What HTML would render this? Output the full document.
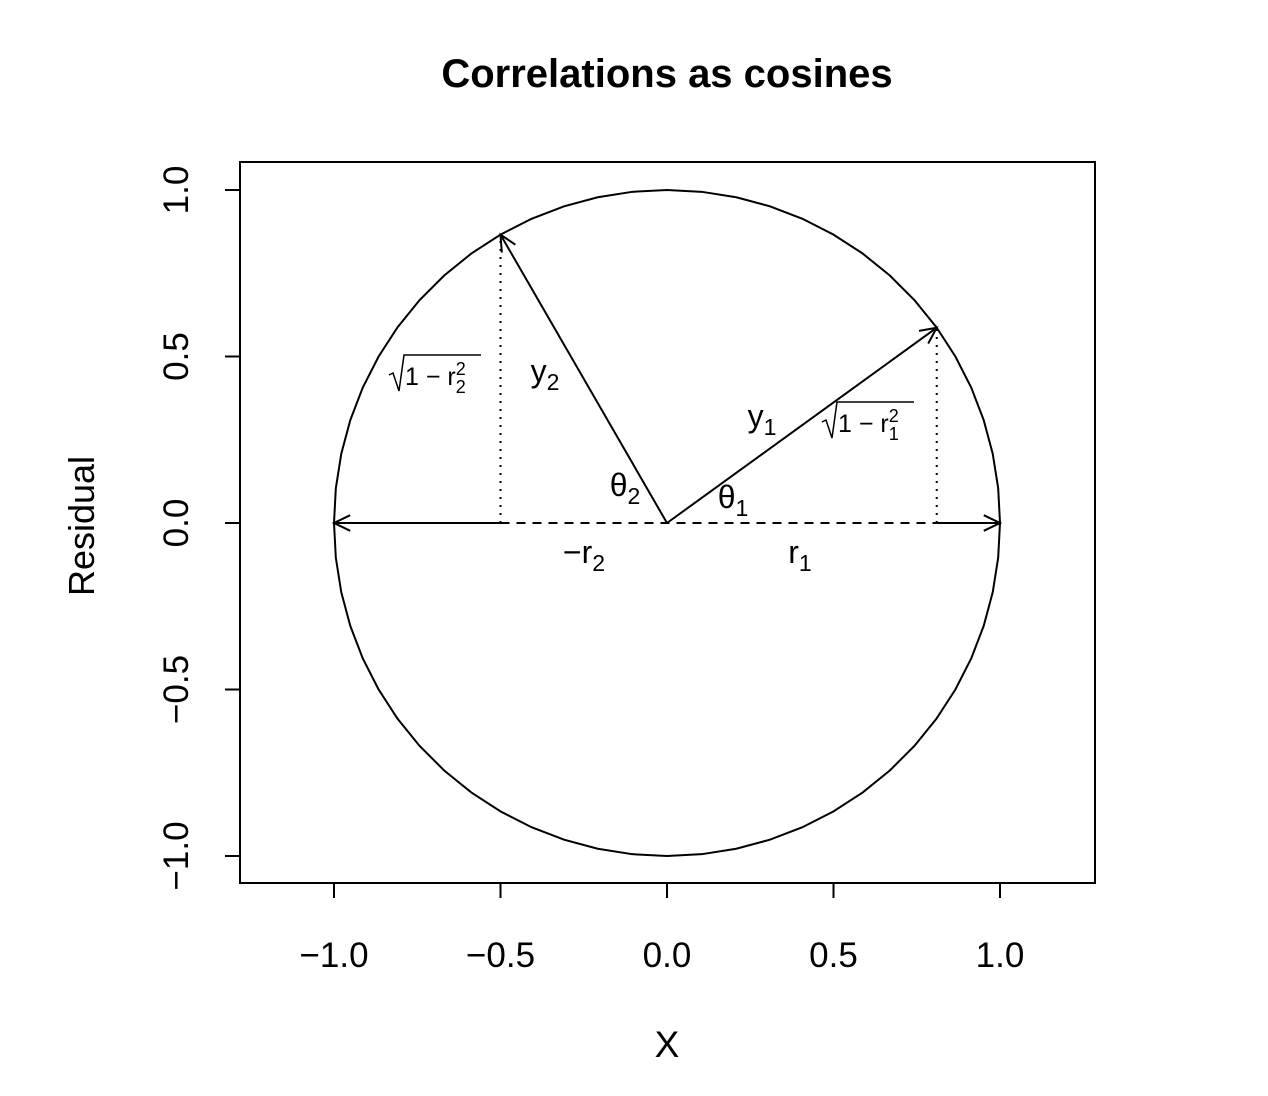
<!DOCTYPE html>
<html><head><meta charset="utf-8"><style>
body{margin:0;background:#fff}
svg{display:block;font-family:"Liberation Sans",Arial,sans-serif}
</style></head><body>
<svg id="chart" width="1268" height="1096" viewBox="0 0 1268 1096">
<text x="667" y="87" text-anchor="middle" font-size="40" font-weight="bold">Correlations as cosines</text>
<rect x="240" y="162" width="855" height="721" fill="none" stroke="#000" stroke-width="2"/>
<g id="axes"></g>
<g id="marks"></g>
<text x="667" y="1057" text-anchor="middle" font-size="37">X</text>
<text transform="translate(94,526) rotate(-90)" text-anchor="middle" font-size="36">Residual</text>
</svg>
<script>
const xTicks=[-1,-0.5,0,0.5,1];
const xTickLabels=["\u22121.0","\u22120.5","0.0","0.5","1.0"];
const yTicks=[-1,-0.5,0,0.5,1];
const yTickLabels=["\u22121.0","\u22120.5","0.0","0.5","1.0"];
const r1=[0.81];
const r2=[-0.5];
const NS="http://www.w3.org/2000/svg";
const X=v=>667+v*333, Y=v=>523-v*333;
function mk(parent,tag,attrs,text){const e=document.createElementNS(NS,tag);for(const k in attrs)e.setAttribute(k,attrs[k]);if(text!==undefined)e.textContent=text;document.getElementById(parent).appendChild(e);return e;}
let e=mk('axes','line',{x1:X(xTicks[0]),x2:X(xTicks[xTicks.length-1]),y1:883,y2:883,stroke:'#000','stroke-width':2});


xTicks.forEach((t,i)=>{
 let l=mk('axes','line',{x1:X(t),x2:X(t),y1:883,y2:898,stroke:'#000','stroke-width':2});
 
 
 let s=mk('axes','text',{x:X(t),y:967,'text-anchor':'middle','font-size':35},xTickLabels[i]);
 
 
});
e=mk('axes','line',{x1:240,x2:240,y1:Y(yTicks[0]),y2:Y(yTicks[yTicks.length-1]),stroke:'#000','stroke-width':2});


yTicks.forEach((t,i)=>{
 let l=mk('axes','line',{x1:225,x2:240,y1:Y(t),y2:Y(t),stroke:'#000','stroke-width':2});
 
 
 let s=mk('axes','text',{transform:`translate(188,${Y(t)}) rotate(-90)`,'text-anchor':'middle','font-size':35},yTickLabels[i]);
 
 
});
let pts=[];for(let i=0;i<=60;i++){const a=i/60*2*Math.PI;pts.push(X(Math.cos(a))+','+Y(Math.sin(a)));}
e=mk('marks','polyline',{points:pts.join(' '),fill:'none',stroke:'#000','stroke-width':2});


function arrow(x0,y0,x1,y1,name,dash){
 const g=mk('marks','g',{});
 
 
 const a={x1:X(x0),y1:Y(y0),x2:X(x1),y2:Y(y1),stroke:'#000','stroke-width':2};
 if(dash)a['stroke-dasharray']=dash;
 const ln=document.createElementNS(NS,'line');for(const k in a)ln.setAttribute(k,a[k]);g.appendChild(ln);
 const ang=Math.atan2(Y(y1)-Y(y0),X(x1)-X(x0)),L=18,sp=0.45;
 const p=document.createElementNS(NS,'polyline');
 p.setAttribute('points',`${X(x1)-L*Math.cos(ang-sp)},${Y(y1)-L*Math.sin(ang-sp)} ${X(x1)},${Y(y1)} ${X(x1)-L*Math.cos(ang+sp)},${Y(y1)-L*Math.sin(ang+sp)}`);
 p.setAttribute('fill','none');p.setAttribute('stroke','#000');p.setAttribute('stroke-width',2);g.appendChild(p);
}
const a1=r1[0], b1=Math.sqrt(1-a1*a1), a2=r2[0], b2=Math.sqrt(1-a2*a2);
arrow(0,0,a1,b1,'vector-y1');
arrow(0,0,a2,b2,'vector-y2');
e=mk('marks','line',{x1:X(a2),x2:X(a1),y1:Y(0),y2:Y(0),stroke:'#000','stroke-width':2,'stroke-dasharray':'9,7'});


arrow(a2,0,-1,0,'arrow-left');
arrow(a1,0,1,0,'arrow-right');
[[a1,b1,'dotted-residual-1'],[a2,b2,'dotted-residual-2']].forEach(([x,y,n])=>{
 let l=mk('marks','line',{x1:X(x),x2:X(x),y1:Y(0),y2:Y(y),stroke:'#000','stroke-width':2,'stroke-dasharray':'2,6'});
 
 
});
function lab(x,y,main,sub,name,fs){
 const t=mk('marks','text',{x:x,y:y,'font-size':fs||32,'text-anchor':'middle'});
 
 
 t.innerHTML=main+`<tspan font-size="23" dy="8">${sub}</tspan>`;
}
lab(545,382,'y','2','label-y2');
lab(762,427,'y','1','label-y1');
lab(625,496,'\u03B8','2','label-theta2');
lab(733,508,'\u03B8','1','label-theta1');
lab(584,563,'\u2212r','2','label-neg-r2');
lab(800,563,'r','1','label-r1');
function sq(x,y,sub,name){
 const g=mk('marks','g',{});
 
 
 const p=document.createElementNS(NS,'polyline');
 p.setAttribute('points',`${x},${y-10} ${x+4},${y-12} ${x+10},${y+6} ${x+15},${y-30} ${x+92},${y-30}`);
 p.setAttribute('fill','none');p.setAttribute('stroke','#000');p.setAttribute('stroke-width',1.5);g.appendChild(p);
 const t=document.createElementNS(NS,'text');t.setAttribute('x',x+16);t.setAttribute('y',y);t.setAttribute('font-size',25);
 t.innerHTML=`1 \u2212 r<tspan font-size="18" dy="-10">2</tspan><tspan font-size="18" dx="-10" dy="18">${sub}</tspan>`;
 g.appendChild(t);
}
sq(389,385,'2','label-sqrt-2');
sq(822,432,'1','label-sqrt-1');
</script>
</body></html>
